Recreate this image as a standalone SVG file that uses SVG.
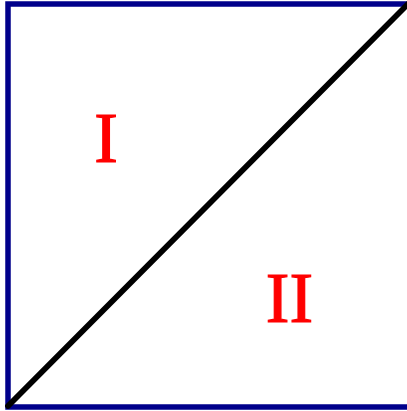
<svg xmlns="http://www.w3.org/2000/svg" width="407" height="411" viewBox="0 0 407 411">
<style>
.lbl{font-family:"Liberation Serif","Times New Roman",serif;font-size:71px;fill:#ff0000;stroke:#ff0000;stroke-width:1.2;text-anchor:middle}
</style>
<rect x="0" y="0" width="407" height="411" fill="#ffffff"/>
<g id="square"><rect x="8" y="4" width="402" height="403" fill="none" stroke="#00008b" stroke-width="5.5"/></g>
<g id="connectors"><line x1="8" y1="406" x2="408" y2="4" stroke="#000000" stroke-width="5.8" stroke-linecap="round"/></g>
<g id="region1"><text class="lbl" x="106" y="161.5">I</text></g>
<g id="region2"><text class="lbl" x="289.5" y="321.5">II</text></g>
</svg>
